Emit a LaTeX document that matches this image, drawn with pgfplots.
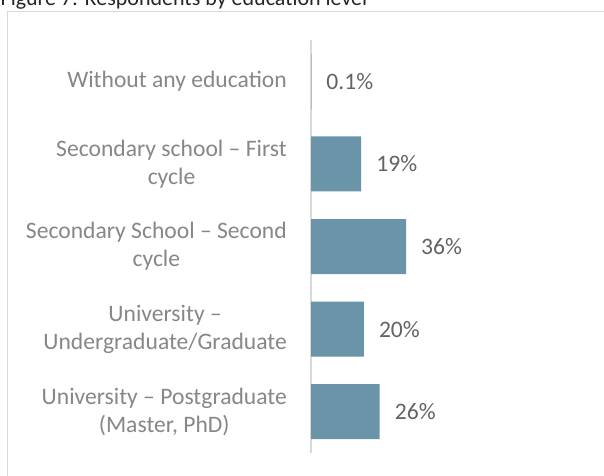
\documentclass[border=0pt]{standalone}
\usepackage{fontspec}
\setmainfont{Carlito}
\usepackage{pgfplots}
\pgfplotsset{compat=1.18}
\definecolor{barc}{HTML}{6A94A8}
\definecolor{catc}{HTML}{878787}
\definecolor{valc}{HTML}{636363}
\definecolor{bordc}{HTML}{D9D9D9}
\definecolor{titc}{HTML}{262626}
\begin{document}
\begin{tikzpicture}[x=1pt,y=1pt]
\useasboundingbox (0,0) rectangle (604,475);
\clip (0,0) rectangle (604,475);
\fill[white] (0,0) rectangle (604,475);
\node[anchor=base west, inner sep=0pt, text=titc, font=\fontsize{22}{26}\selectfont] at (0.5,469) {Figure 7: Respondents by education level};
\draw[bordc, line width=1.5pt] (7.5,-5) -- (7.5,463.5) -- (610,463.5);
\begin{axis}[
  at={(311pt,22pt)}, anchor=south west,
  scale only axis, width=105.6pt, height=413pt,
  xmin=0, xmax=40, ymin=-0.5, ymax=4.5,
  y dir=reverse,
  xbar, bar width=55pt,
  axis x line=none,
  axis y line*=left,
  y axis line style={draw=bordc, line width=1.5pt, -},
  ytick={0,1,2,3,4},
  major tick length=0pt,
  yticklabels={{Without any education},{Secondary school – First\\cycle},{Secondary School – Second\\cycle},{University –\\Undergraduate/Graduate},{University – Postgraduate\\(Master, PhD)}},
  yticklabel style={align=center, text=catc, inner sep=0pt, font=\fontsize{23.6}{28}\selectfont},
  yticklabel shift=24pt,
  clip=false,
  point meta=explicit symbolic,
  nodes near coords,
  nodes near coords style={anchor=west, inner sep=0pt, xshift=15pt, text=valc, font=\fontsize{23.6}{28}\selectfont},
]
\addplot[fill=barc, draw=none] coordinates {
  (0.1,0) [0.1\%]
  (19,1) [19\%]
  (36,2) [36\%]
  (20,3) [20\%]
  (26,4) [26\%]
};
\end{axis}
\end{tikzpicture}
\end{document}
